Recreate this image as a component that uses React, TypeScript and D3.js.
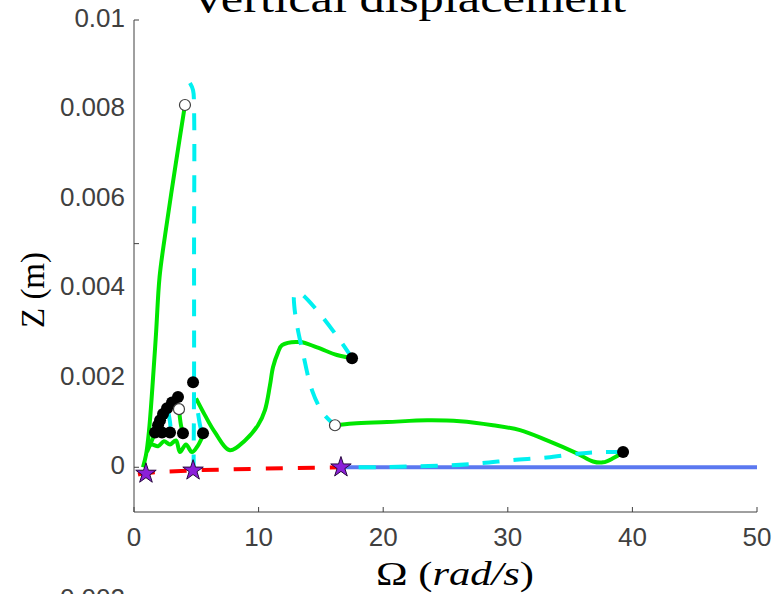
import React, { useEffect, useRef } from 'react';
import * as d3 from 'd3';

type Pt = [number, number];

// axis ticks
const xTicks = [0, 10, 20, 30, 40, 50];
const yTickMarks = [0, 0.005, 0.01];
const yTickLabels = [0, 0.002, 0.004, 0.006, 0.008, 0.01];
const yTickText = ['0', '0.002', '0.004', '0.006', '0.008', '0.01'];

// stable branches (green)
const greenA: Pt[] = [
  [0.72, 0], [0.96, 0.00027], [1.2, 0.0008], [1.48, 0.0018], [1.77, 0.003],
  [2.05, 0.00425], [2.5, 0.0052], [3.36, 0.0068], [4.09, 0.0081],
];
const greenB: Pt[] = [
  [4.98, 0.00154], [5.7, 0.00116], [6.5, 0.00078], [7.7, 0.00038], [8.91, 0.0006],
  [9.95, 0.00094], [10.51, 0.00128], [10.91, 0.00183], [11.16, 0.00224], [11.56, 0.00257],
  [11.88, 0.00273], [13.32, 0.0028], [14.69, 0.00268], [16.29, 0.00251], [17.5, 0.00244],
];
const greenC: Pt[] = [
  [16.13, 0.00094], [17.58, 0.00098], [20.3, 0.00101], [23.52, 0.00105], [26.16, 0.00103],
  [28.81, 0.00094], [30.98, 0.00083], [33.15, 0.0006], [35.55, 0.00031], [36.84, 0.00013],
  [37.64, 0.00011], [38.44, 0.0002], [39.25, 0.00034],
];
const greenD1: Pt[] = [
  [1.04, 0.00047], [1.44, 0.00051], [1.93, 0.00047], [2.41, 0.00058], [2.89, 0.00051],
  [3.37, 0.0006], [3.69, 0.00034], [4.17, 0.00051], [4.65, 0.00034], [5.14, 0.00049], [5.54, 0.00072],
];
const greenD2: Pt[] = [
  [1.04, 0.00034], [1.69, 0.00078], [1.93, 0.00101], [2.33, 0.00121], [2.73, 0.00139], [3.53, 0.00157],
];
const greenD3: Pt[] = [[3.61, 0.0013], [3.77, 0.00094], [3.93, 0.00076]];

// unstable branches (cyan dashed)
const cyanA: Pt[] = [
  [4.49, 0.00859], [4.74, 0.00843], [4.82, 0.00799], [4.82, 0.00485], [4.82, 0.00195], [4.78, -0.00007],
];
const cyanB: Pt[] = [
  [17.5, 0.00244], [16.53, 0.00284], [14.53, 0.00356], [13.4, 0.00388], [13.08, 0.00391],
  [12.86, 0.00384], [12.86, 0.00362], [13.1, 0.00315], [13.56, 0.00255], [14.29, 0.00172],
  [15.17, 0.00121], [16.13, 0.00094],
];
const cyanC: Pt[] = [
  [39.25, 0.00034], [37.4, 0.00034], [35.79, 0.00031], [33.15, 0.00022], [30.42, 0.00016],
  [27.77, 0.00009], [25.12, 0.00004], [22.15, 0.00002], [19.5, 0], [16.93, 0],
];
const cyanE: Pt[] = [[5.14, 0.00121], [5.3, 0.00094], [5.46, 0.00076]];
const cyanF: Pt[] = [[2.73, 0.00128], [2.89, 0.00101], [2.97, 0.00078]];

// trivial branches
const redBranch: Pt[] = [[0.32, -0.00016], [0.96, -0.00013], [4.74, -0.00007], [16.61, 0]];
const blueBranch: Pt[] = [[16.61, 0], [50, 0]];

// markers
const blackDots: Pt[] = [
  [1.69, 0.00078], [1.93, 0.00094], [2.09, 0.00105], [2.33, 0.00119], [2.65, 0.00132],
  [3.05, 0.00145], [3.53, 0.00157], [2.25, 0.00078], [2.89, 0.00078], [3.93, 0.00076],
  [4.74, 0.0019], [5.54, 0.00076], [17.5, 0.00244], [39.25, 0.00034],
];
const hollowDots: Pt[] = [[4.09, 0.0081], [3.61, 0.0013], [16.13, 0.00094]];
const stars: Pt[] = [[0.96, -0.00014], [4.74, -0.00007], [16.61, 0]];

const W = 776;
const H = 594;

export default function App() {
  const ref = useRef<SVGSVGElement>(null);

  useEffect(() => {
    const svg = d3.select(ref.current);
    svg.selectAll('*').remove();

    const x = d3.scaleLinear().domain([0, 50]).range([134, 757]);
    const y = d3.scaleLinear().domain([-0.001, 0.01]).range([512, 20]);
    const line = d3.line<Pt>().x(d => x(d[0])).y(d => y(d[1])).curve(d3.curveCatmullRom.alpha(0.5));
    const axisColor = '#404040';
    const sans = 'Liberation Sans, Arial, sans-serif';
    const serif = 'Liberation Serif, Times New Roman, serif';

    // title, cut at the top
    svg.append('text')
      .attr('x', 408).attr('y', 12)
      .attr('text-anchor', 'middle')
      .attr('font-family', serif).attr('font-size', 40)
      .attr('textLength', 436).attr('lengthAdjust', 'spacingAndGlyphs')
      .text('Vertical displacement');

    // axes
    const ax = svg.append('g').attr('stroke', axisColor).attr('fill', 'none').attr('stroke-width', 1);
    ax.append('line').attr('x1', x(0)).attr('x2', x(0)).attr('y1', y(0.01)).attr('y2', y(-0.001));
    ax.append('line').attr('x1', x(0)).attr('x2', x(50)).attr('y1', y(-0.001)).attr('y2', y(-0.001));
    xTicks.forEach(t => {
      ax.append('line').attr('x1', x(t)).attr('x2', x(t)).attr('y1', y(-0.001)).attr('y2', y(-0.001) - 5);
    });
    yTickMarks.forEach(t => {
      ax.append('line').attr('x1', x(0)).attr('x2', x(0) + 5).attr('y1', y(t)).attr('y2', y(t));
    });

    svg.append('g').selectAll('text').data(xTicks).join('text')
      .attr('x', d => x(d)).attr('y', y(-0.001) + 34)
      .attr('text-anchor', 'middle')
      .attr('font-family', sans).attr('font-size', 26).attr('fill', axisColor)
      .text(d => String(d));

    svg.append('g').selectAll('text').data(yTickLabels).join('text')
      .attr('x', x(0) - 9).attr('y', d => y(d) + 7)
      .attr('text-anchor', 'end')
      .attr('font-family', sans).attr('font-size', 26).attr('fill', axisColor)
      .text((d, i) => yTickText[i]);

    // label from the subplot below, cut at the bottom
    svg.append('text')
      .attr('x', x(0) - 9).attr('y', 607)
      .attr('text-anchor', 'end')
      .attr('font-family', sans).attr('font-size', 26).attr('fill', axisColor)
      .text('0.002');

    // axis labels
    svg.append('text')
      .attr('transform', 'translate(44,290) rotate(-90)')
      .attr('text-anchor', 'middle')
      .attr('font-family', serif).attr('font-size', 33)
      .text('Z (m)');

    const xl = svg.append('text')
      .attr('x', 455).attr('y', 585)
      .attr('text-anchor', 'middle')
      .attr('font-family', serif).attr('font-size', 34)
      .attr('textLength', 158).attr('lengthAdjust', 'spacingAndGlyphs');
    xl.append('tspan').text('Ω (');
    xl.append('tspan').attr('font-style', 'italic').text('rad/s');
    xl.append('tspan').text(')');

    // branches
    const draw = (pts: Pt[], color: string, width: number, dash?: string) => {
      svg.append('path').datum(pts)
        .attr('d', line)
        .attr('fill', 'none')
        .attr('stroke', color)
        .attr('stroke-width', width)
        .attr('stroke-linejoin', 'round')
        .attr('stroke-dasharray', dash || null);
    };

    draw(blueBranch, '#5b78f0', 4);
    draw(redBranch, '#ff0000', 4, '17 15');
    [greenA, greenB, greenC, greenD1, greenD2, greenD3].forEach(p => draw(p, '#00e600', 4));
    [cyanA, cyanB, cyanC, cyanE, cyanF].forEach(p => draw(p, '#00f0f0', 4, '17 14'));

    svg.append('g').selectAll('circle').data(blackDots).join('circle')
      .attr('cx', d => x(d[0])).attr('cy', d => y(d[1])).attr('r', 6)
      .attr('fill', '#000');

    svg.append('g').selectAll('circle').data(hollowDots).join('circle')
      .attr('cx', d => x(d[0])).attr('cy', d => y(d[1])).attr('r', 5.5)
      .attr('fill', '#fff').attr('stroke', '#404040').attr('stroke-width', 1.2);

    const star = d3.symbol().type(d3.symbolStar).size(130);
    svg.append('g').selectAll('path').data(stars).join('path')
      .attr('transform', d => `translate(${x(d[0])},${y(d[1])})`)
      .attr('d', star)
      .attr('fill', '#8b1fd9').attr('stroke', '#2a0a40').attr('stroke-width', 1);
  }, []);

  return (
    <svg
      ref={ref}
      width={W}
      height={H}
      style={{ position: 'absolute', left: 0, top: 0, background: '#fff' }}
    />
  );
}
